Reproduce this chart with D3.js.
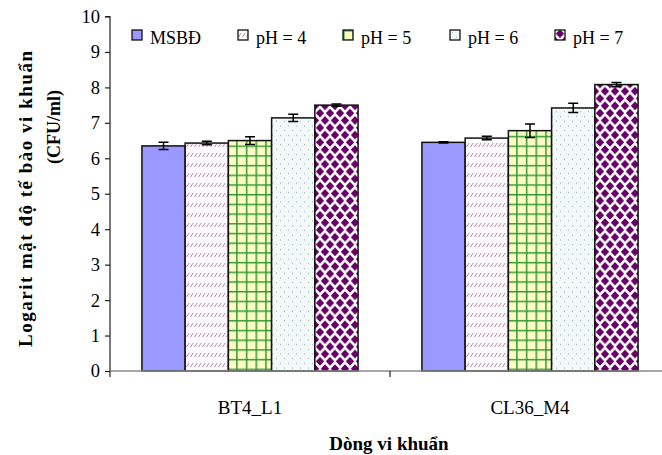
<!DOCTYPE html>
<html><head><meta charset="utf-8">
<script src="https://cdn.jsdelivr.net/npm/d3@7"></script>
<style>body{margin:0;background:#fff}</style>
</head><body><svg id="chart" width="662" height="455"></svg>
<script>
// Bacterial strains and treatments
const strains = ["BT4_L1", "CL36_M4"];
const seriesNames = ["MSBĐ", "pH = 4", "pH = 5", "pH = 6", "pH = 7"];
// Log cell density (CFU/ml), one value per series
const meanBT4 = [6.35, 6.43, 6.50, 7.14, 7.50];
const meanCL36 = [6.45, 6.57, 6.78, 7.42, 8.08];
// Standard deviations
const errBT4 = [0.10, 0.05, 0.11, 0.10, 0.03];
const errCL36 = [0.02, 0.05, 0.19, 0.13, 0.06];
const yTicks = [0, 1, 2, 3, 4, 5, 6, 7, 8, 9, 10];

const yTitle1 = "Logarit mật độ tế bào vi khuẩn";
const yTitle2 = "(CFU/ml)";
const xTitle = "Dòng vi khuẩn";

const rows = [
  {strain: strains[0], means: meanBT4, errs: errBT4},
  {strain: strains[1], means: meanCL36, errs: errCL36}
];

const FONT = "'Liberation Serif','Times New Roman',serif";
const svg = d3.select("#chart");
svg.append("rect").attr("width", 662).attr("height", 455).attr("fill", "#fff");

const plotLeft = 110, plotRight = 670, plotTop = 16.5, plotBottom = 371;

const x0 = d3.scaleBand().domain(strains).range([plotLeft, plotRight]);
const x1 = d3.scaleBand().domain(seriesNames)
  .range([x0.bandwidth() * 0.114, x0.bandwidth() * (1 - 0.114)]);
const y = d3.scaleLinear().domain([0, 10]).range([plotBottom, plotTop]);

// Fill patterns
const defs = svg.append("defs");
// pH 4: rows of short maroon diagonal strokes
const p4 = defs.append("pattern").attr("id", "p4").attr("patternUnits", "userSpaceOnUse")
  .attr("width", 4).attr("height", 10);
p4.append("rect").attr("width", 4).attr("height", 10).attr("fill", "#fcfafc");
p4.append("line").attr("x1", 0.5).attr("y1", 7).attr("x2", 3.2).attr("y2", 3)
  .attr("stroke", "#b07f98").attr("stroke-width", 0.9);
// pH 5: green grid on pale yellow
const p5 = defs.append("pattern").attr("id", "p5").attr("patternUnits", "userSpaceOnUse")
  .attr("width", 9.7).attr("height", 9.7);
p5.append("rect").attr("width", 9.7).attr("height", 9.7).attr("fill", "#fbfbc4");
p5.append("path").attr("d", "M0,0.8H9.7M0.8,0V9.7").attr("stroke", "#339933").attr("stroke-width", 1.5);
// pH 6: sparse grey dots on very light cyan
const p6 = defs.append("pattern").attr("id", "p6").attr("patternUnits", "userSpaceOnUse")
  .attr("width", 8).attr("height", 9.5);
p6.append("rect").attr("width", 8).attr("height", 9.5).attr("fill", "#f3f9f9");
p6.append("rect").attr("x", 2).attr("y", 2).attr("width", 1).attr("height", 1).attr("fill", "#9aa");
p6.append("rect").attr("x", 6).attr("y", 6.7).attr("width", 1).attr("height", 1).attr("fill", "#9aa");
// pH 7: purple diamonds
const p7 = defs.append("pattern").attr("id", "p7").attr("patternUnits", "userSpaceOnUse")
  .attr("width", 10).attr("height", 14.6);
p7.append("rect").attr("width", 10).attr("height", 14.6).attr("fill", "#fff");
const diamond = (cx, cy) => `M${cx},${cy - 4.4}L${cx + 4.2},${cy}L${cx},${cy + 4.4}L${cx - 4.2},${cy}Z`;
p7.append("path").attr("d", diamond(5, 3.65) + diamond(0, 10.95) + diamond(10, 10.95) + diamond(5, 18.25) + diamond(0, -3.65) + diamond(10, -3.65))
  .attr("fill", "#660066");

const fills = ["#9999ff", "url(#p4)", "url(#p5)", "url(#p6)", "url(#p7)"];

// Y axis
const yAxis = svg.append("g").attr("transform", `translate(${plotLeft},0)`)
  .call(d3.axisLeft(y).tickValues(yTicks).tickSize(5).tickPadding(5).tickFormat(d3.format("d")));
yAxis.select(".domain").attr("stroke", "#222").attr("stroke-width", 1.2).attr("d", `M-5,${plotTop}H0V${plotBottom}`);
yAxis.selectAll(".tick line").attr("stroke", "#222").attr("stroke-width", 1.2);
yAxis.selectAll(".tick text").attr("font-family", FONT).attr("font-size", 18.5).attr("fill", "#000");

// Bars
const groups = svg.append("g").selectAll("g").data(rows).join("g")
  .attr("transform", d => `translate(${x0(d.strain)},0)`);
groups.selectAll("rect").data(d => d.means.map((v, i) => ({name: seriesNames[i], v, e: d.errs[i], i})))
  .join("rect")
  .attr("x", d => x1(d.name))
  .attr("y", d => y(d.v))
  .attr("width", x1.bandwidth())
  .attr("height", d => y(0) - y(d.v))
  .attr("fill", d => fills[d.i])
  .attr("stroke", "#111").attr("stroke-width", 1.5);

// Error bars
const eb = groups.selectAll("g.err").data(d => d.means.map((v, i) => ({name: seriesNames[i], v, e: d.errs[i]})))
  .join("g").attr("class", "err")
  .attr("transform", d => `translate(${x1(d.name) + x1.bandwidth() / 2},0)`);
eb.append("path")
  .attr("d", d => `M0,${y(d.v + d.e)}V${y(d.v - d.e)}M-5,${y(d.v + d.e)}H5M-5,${y(d.v - d.e)}H5`)
  .attr("stroke", "#000").attr("stroke-width", 1.5).attr("fill", "none");

// X axis
const xAxis = svg.append("g").attr("transform", `translate(0,${plotBottom})`);
xAxis.append("line").attr("x1", plotLeft).attr("x2", plotRight).attr("stroke", "#888").attr("stroke-width", 1.6);
xAxis.selectAll("line.tk").data([plotLeft, x0(strains[1]), plotRight]).join("line").attr("class", "tk")
  .attr("x1", d => d).attr("x2", d => d).attr("y1", 0).attr("y2", 6)
  .attr("stroke", "#222").attr("stroke-width", 1.2);
xAxis.selectAll("text").data(strains).join("text")
  .attr("x", d => x0(d) + x0.bandwidth() / 2).attr("y", 43)
  .attr("text-anchor", "middle").attr("font-family", FONT).attr("font-size", 19)
  .text(d => d);

// Titles
svg.append("text").attr("x", 389).attr("y", 450).attr("text-anchor", "middle")
  .attr("font-family", FONT).attr("font-size", 19).attr("font-weight", "bold").text(xTitle);
svg.append("text").attr("transform", "translate(32,199) rotate(-90)").attr("text-anchor", "middle")
  .attr("font-family", FONT).attr("font-size", 19).attr("font-weight", "bold")
  .attr("textLength", 296).attr("lengthAdjust", "spacing").text(yTitle1);
svg.append("text").attr("transform", "translate(60,127) rotate(-90)").attr("text-anchor", "middle")
  .attr("font-family", FONT).attr("font-size", 18).attr("font-weight", "bold").text(yTitle2);

// Legend
const legendX = [132, 238, 343, 450, 555];
const lg = svg.append("g").selectAll("g").data(seriesNames).join("g")
  .attr("transform", (d, i) => `translate(${legendX[i]},30)`);
lg.append("rect").attr("width", 10).attr("height", 10)
  .attr("fill", (d, i) => fills[i]).attr("stroke", "#111").attr("stroke-width", 1.3);
lg.append("text").attr("x", 18).attr("y", 13.5)
  .attr("font-family", FONT).attr("font-size", 18).text(d => d);
</script></body></html>
